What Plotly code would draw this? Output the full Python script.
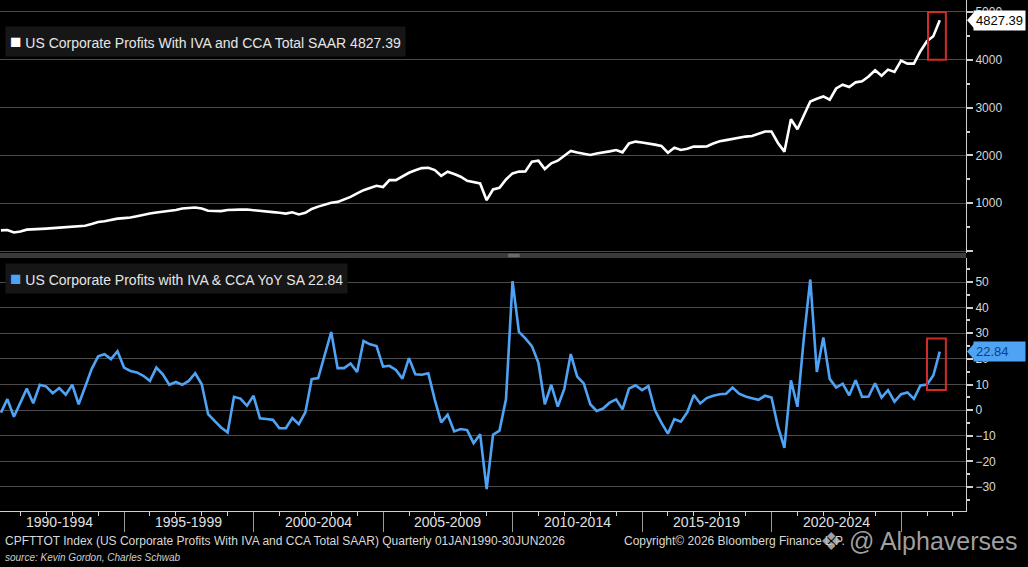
import pandas as pd
import plotly.graph_objects as go

# Квартальные данные 1990Q1 - 2026Q2 (146 точек)
profits = [434, 440, 388, 410, 448, 452, 460, 470, 480, 490,
           498, 508, 518, 528, 565, 609, 623, 650, 679, 690,
           702, 730, 763, 785, 805, 820, 835, 860, 890, 905,
           912, 890, 842, 838, 835, 860, 868, 866, 868, 858,
           842, 830, 815, 800, 784, 812, 765, 800, 880, 930,
           975, 1012, 1029, 1080, 1134, 1205, 1274, 1320, 1365, 1340,
           1484, 1484, 1560, 1638, 1690, 1735, 1743, 1694, 1575, 1659,
           1610, 1554, 1470, 1435, 1414, 1064, 1288, 1323, 1498, 1624,
           1662, 1665, 1869, 1890, 1715, 1834, 1890, 1995, 2093, 2060,
           2030, 2009, 2040, 2058, 2085, 2114, 2065, 2250, 2289, 2270,
           2254, 2226, 2198, 2058, 2163, 2114, 2140, 2184, 2184, 2186,
           2250, 2295, 2320, 2345, 2375, 2394, 2408, 2455, 2499, 2500,
           2260, 2079, 2758, 2548, 2850, 3129, 3185, 3234, 3164, 3400,
           3479, 3430, 3528, 3549, 3650, 3780, 3668, 3794, 3745, 3983,
           3920, 3920, 4179, 4389, 4494, 4827.39]

yoy = [-1, 4.3, -2.6, 3, 8.4, 2.7, 9.9, 9.2, 6.6, 8.6,
       6, 9.9, 2.3, 9, 16, 21, 21.8, 19.9, 23, 16.6,
       15.3, 14.7, 13.4, 11.4, 16.6, 14, 9.9, 11, 9.9, 11.4,
       14.4, 10.1, -1.6, -4.2, -6.8, -8.7, 5.2, 4.5, 1.7, 5.6,
       -3.2, -3.5, -3.8, -7.1, -7.1, -3.1, -5.5, -0.9, 12.1, 12.5,
       21, 30.5, 16.4, 16.4, 18.2, 14.9, 27, 25.7, 25, 17,
       17.3, 15.7, 12.3, 20.3, 14, 13.8, 14.4, 4, -4.8, -1.8,
       -8.3, -7.4, -7.8, -12.9, -9.4, -30.8, -9.6, -8, 4.3, 50.4,
       30.5, 28, 25, 18.5, 2.3, 9.9, 1.4, 8.3, 21.9, 13.1,
       10.4, 2.3, -0.3, 0.6, 2.9, 4.2, 0.3, 8.4, 9.7, 7.8,
       9.4, 0, -4.9, -9.2, -3.5, -4.5, -0.8, 5.9, 2.6, 4.7,
       5.6, 6.2, 6.4, 8.8, 6.4, 5.3, 4.6, 4.0, 5.6, 4.9,
       -6.5, -14.7, 11.6, 1.3, 28, 51, 14.9, 28.4, 12.2, 8.8,
       10.3, 5.8, 11.7, 5.2, 5.3, 10.5, 4.9, 7.8, 3.3, 6.2,
       6.9, 4.4, 9.6, 10, 13.5, 22.84]

dates = pd.date_range('1990-03-31', periods=len(profits), freq='QE')

period_labels = ['1990-1994', '1995-1999', '2000-2004', '2005-2009',
                 '2010-2014', '2015-2019', '2020-2024']
period_starts = [1990, 1995, 2000, 2005, 2010, 2015, 2020]

top_ticks = [0, 1000, 2000, 3000, 4000, 5000]
top_minor = [500, 1500, 2500, 3500, 4500]
bot_ticks = [-30, -20, -10, 0, 10, 20, 30, 40, 50]
bot_minor = [-35, -25, -15, -5, 5, 15, 25, 35, 45, 55]

FONT = 'Liberation Sans, Arial, sans-serif'
GRID = '#4a4a4a'
AXIS = '#cfcfcf'
BLUE = '#4ea3f5'

fig = go.Figure()
fig.add_trace(go.Scatter(x=dates, y=profits, xaxis='x', yaxis='y', mode='lines',
                         line=dict(color='white', width=2.6), showlegend=False))
fig.add_trace(go.Scatter(x=dates, y=yoy, xaxis='x2', yaxis='y2', mode='lines',
                         line=dict(color=BLUE, width=2.6), showlegend=False))

xrange = ['1990-03-18', '2027-07-05']
bounds = ['%d-01-01' % y for y in period_starts[1:] + [2025]]
years = ['%d-01-01' % y for y in range(1991, 2028)]

fig.update_layout(
    width=1028, height=567,
    margin=dict(l=0, r=62, t=0, b=56, autoexpand=False),
    paper_bgcolor='black', plot_bgcolor='black',
    font=dict(family=FONT, color='#d8d8d8', size=13),
    xaxis=dict(domain=[0, 1], anchor='y', range=xrange, showgrid=False,
               showticklabels=False, ticks='', zeroline=False, automargin=False),
    yaxis=dict(domain=[0.5049, 1], anchor='x', side='right', range=[-40, 5250],
               tickmode='array', tickvals=top_ticks,
               ticktext=[''] + [str(v) for v in top_ticks[1:]],
               showgrid=True, gridcolor=GRID, gridwidth=1, zeroline=False,
               ticks='outside', ticklen=6, tickwidth=1.5, tickcolor=AXIS,
               showline=True, linecolor=AXIS, linewidth=1, automargin=False,
               minor=dict(tickmode='array', tickvals=top_minor, ticks='outside',
                          ticklen=3, tickcolor=AXIS, showgrid=False),
               tickfont=dict(size=12, color='#d8d8d8')),
    xaxis2=dict(domain=[0, 1], anchor='y2', range=xrange, matches='x',
                showgrid=False, showticklabels=False, zeroline=False,
                tickmode='array', tickvals=bounds, ticks='outside', ticklen=20,
                tickcolor='#9a9a9a', tickwidth=1, automargin=False,
                showline=True, linecolor=AXIS, linewidth=1,
                minor=dict(tickmode='array', tickvals=years, ticks='outside',
                           ticklen=4, tickcolor=AXIS, showgrid=False)),
    yaxis2=dict(domain=[0, 0.4951], anchor='x2', side='right', range=[-39.4, 59.4],
                tickmode='array', tickvals=bot_ticks,
                showgrid=True, gridcolor=GRID, gridwidth=1, zeroline=False,
                ticks='outside', ticklen=6, tickwidth=1.5, tickcolor=AXIS,
                showline=True, linecolor=AXIS, linewidth=1, automargin=False,
                minor=dict(tickmode='array', tickvals=bot_minor, ticks='outside',
                           ticklen=3, tickcolor=AXIS, showgrid=False),
                tickfont=dict(size=12, color='#d8d8d8')),
)

# полоса-разделитель между панелями
fig.add_shape(type='rect', xref='paper', yref='paper', x0=0, x1=1,
              y0=0.4951, y1=0.5049, fillcolor='#3a3a3a', line_width=0, layer='above')
fig.add_shape(type='rect', xref='paper', yref='paper', x0=0.526, x1=0.538,
              y0=0.4965, y1=0.5035, fillcolor='#6a6a6a', line_width=0, layer='above')

# красные рамки на последних точках
fig.add_shape(type='rect', xref='x', yref='y', x0='2026-01-15', x1='2026-09-24',
              y0=4000, y1=5000, line=dict(color='#d42a2a', width=2))
fig.add_shape(type='rect', xref='x2', yref='y2', x0='2026-01-01', x1='2026-09-24',
              y0=7.9, y1=28, line=dict(color='#d42a2a', width=2))

# "легенды" панелей
fig.add_annotation(xref='paper', yref='paper', x=0, y=1, xshift=5, yshift=-26,
                   xanchor='left', yanchor='top', showarrow=False, align='left',
                   text='<span style="color:white;font-size:19px">■</span> '
                        'US Corporate Profits With IVA and CCA Total SAAR %.2f' % profits[-1],
                   font=dict(size=14, color='#e6e6e6'),
                   bgcolor='#161616', borderpad=4)
fig.add_annotation(xref='paper', yref='paper', x=0, y=0.4951, xshift=5, yshift=-5,
                   xanchor='left', yanchor='top', showarrow=False, align='left',
                   text='<span style="color:%s;font-size:19px">■</span> '
                        'US Corporate Profits with IVA & CCA YoY SA %.2f' % (BLUE, yoy[-1]),
                   font=dict(size=14, color='#e6e6e6'),
                   bgcolor='#161616', borderpad=4)

# метки последних значений справа, с указателем-треугольником
for yref, val, bg, fg, pad in [('y', profits[-1], 'white', 'black', ''),
                               ('y2', yoy[-1], BLUE, '#0b3f86', '    ')]:
    fig.add_annotation(xref='paper', yref=yref, x=1, y=val, xshift=7,
                       xanchor='left', yanchor='middle', showarrow=False,
                       text='%.2f%s' % (val, pad), font=dict(size=13, color=fg),
                       bgcolor=bg, borderpad=2)
    fig.add_shape(type='path', xref='paper', yref=yref, xsizemode='pixel',
                  ysizemode='pixel', xanchor=1, yanchor=val,
                  path='M 1,0 L 8,-8 L 8,8 Z', fillcolor=bg, line_width=0)

# подписи пятилеток по оси X
for lab, start in zip(period_labels, period_starts):
    mid = pd.Timestamp('%d-07-02' % (start + 2))
    fig.add_annotation(xref='x2', yref='paper', x=mid, y=0, yshift=-11,
                       xanchor='center', yanchor='middle', showarrow=False,
                       text=lab, font=dict(size=14, color='#e0e0e0'))

# подвал
fig.add_annotation(xref='paper', yref='paper', x=0, y=0, xshift=3, yshift=-30,
                   xanchor='left', yanchor='middle', showarrow=False,
                   text='CPFTTOT Index (US Corporate Profits With IVA and CCA Total SAAR) '
                        'Quarterly 01JAN1990-30JUN2026',
                   font=dict(size=12, color='#d8d8d8'))
fig.add_annotation(xref='paper', yref='paper', x=0.644, y=0, yshift=-30,
                   xanchor='left', yanchor='middle', showarrow=False,
                   text='Copyright© 2026 Bloomberg Finance L.P.',
                   font=dict(size=12, color='#d8d8d8'))
fig.add_annotation(xref='paper', yref='paper', x=0, y=0, xshift=3, yshift=-46,
                   xanchor='left', yanchor='middle', showarrow=False,
                   text='<i>source: Kevin Gordon, Charles Schwab</i>',
                   font=dict(size=10, color='#cfcfcf'))
fig.add_annotation(xref='paper', yref='paper', x=0.847, y=0, yshift=-30,
                   xanchor='left', yanchor='middle', showarrow=False,
                   text='❖ @ Alphaverses',
                   font=dict(size=25, color='rgba(190,190,190,0.85)'))

# убрать отступ страницы, чтобы график занимал окно целиком
fig.write_html('out.html', config={'displayModeBar': False},
               post_script="document.body.style.margin='0';"
                           "document.body.style.background='black';")
